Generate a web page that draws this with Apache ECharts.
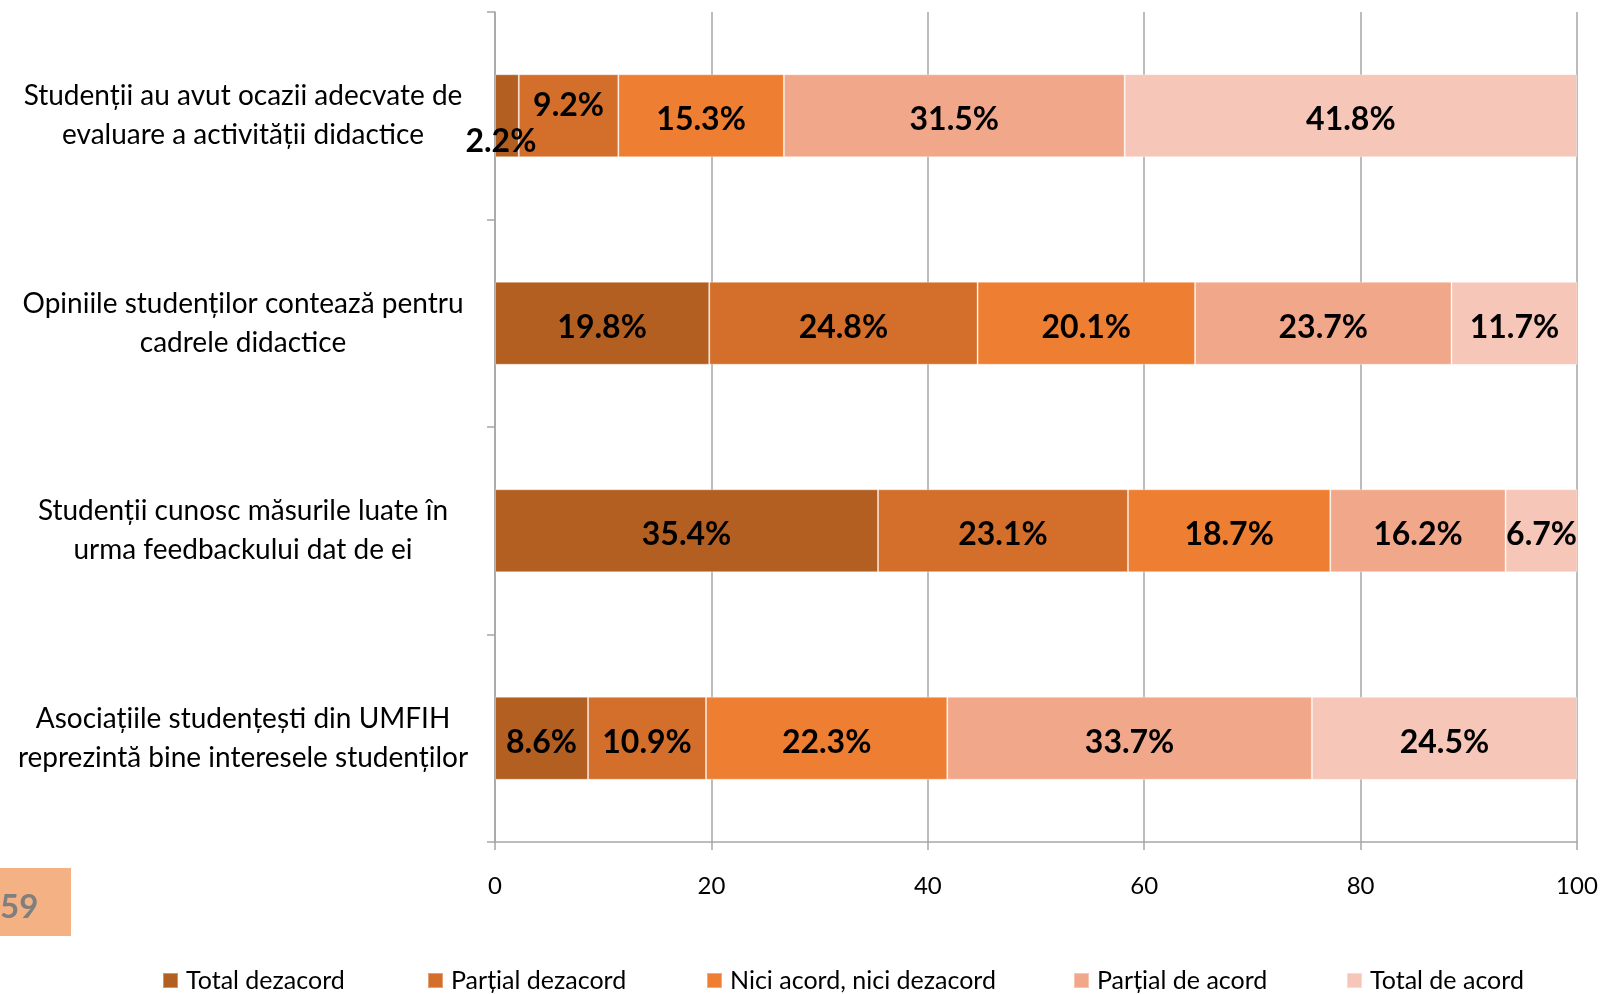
<!DOCTYPE html>
<html>
<head>
<meta charset="utf-8">
<script src="https://cdn.jsdelivr.net/npm/echarts@6/dist/echarts.min.js"></script>
<style>
html,body{margin:0;padding:0;background:#fff;}
#c{width:1603px;height:994px;}
</style>
</head>
<body>
<div id="c"></div>
<script>
const categories = [
  "Studenții au avut ocazii adecvate de\nevaluare a activității didactice",
  "Opiniile studenților contează pentru\ncadrele didactice",
  "Studenții cunosc măsurile luate în\nurma feedbackului dat de ei",
  "Asociațiile studențești din UMFIH\nreprezintă bine interesele studenților"
];
const seriesNames = ["Total dezacord", "Parțial dezacord", "Nici acord, nici dezacord", "Parțial de acord", "Total de acord"];
const totalDezacord = [2.2, 19.8, 35.4, 8.6];
const partialDezacord = [9.2, 24.8, 23.1, 10.9];
const niciAcord = [15.3, 20.1, 18.7, 22.3];
const partialAcord = [31.5, 23.7, 16.2, 33.7];
const totalAcord = [41.8, 11.7, 6.7, 24.5];
const xTicks = [0, 20, 40, 60, 80, 100];
const pageNumber = "59";

const values = [totalDezacord, partialDezacord, niciAcord, partialAcord, totalAcord];
const colors = ["#B45F22", "#D36E2B", "#EE7E32", "#F1A88A", "#F6C7B8"];
const FONT = "Lato";

const labelOffsets = { "0-0": [-6, 26], "1-0": [0, -10] };

const series = values.map((arr, si) => ({
  name: seriesNames[si],
  type: 'bar',
  stack: 'all',
  barWidth: 83,
  itemStyle: { color: colors[si], borderColor: 'rgba(255,255,255,0.35)', borderWidth: 1 },
  data: arr.map((v, ci) => {
    const d = { value: v };
    const off = labelOffsets[si + "-" + ci];
    if (off) d.label = { offset: off };
    return d;
  }),
  label: {
    show: true,
    position: 'inside',
    offset: [0, 4],
    formatter: p => p.value.toFixed(1) + '%',
    color: '#000',
    fontFamily: FONT,
    fontWeight: 'bold',
    fontSize: 32
  }
}));

const legendLefts = [157, 422, 701, 1068, 1341];
const legends = seriesNames.map((n, i) => ({
  data: [n],
  left: legendLefts[i],
  top: 963,
  itemWidth: 15,
  itemHeight: 15,
  itemGap: 0,
  icon: 'rect',
  textStyle: { fontFamily: FONT, fontSize: 25, color: '#000', padding: [0, 0, 0, 3] }
}));

const chart = echarts.init(document.getElementById('c'), null, { renderer: 'canvas' });
chart.setOption({
  animation: false,
  backgroundColor: '#fff',
  grid: { left: 495, right: 26, top: 12, bottom: 152, containLabel: false },
  legend: legends,
  xAxis: {
    type: 'value',
    min: 0, max: 100, interval: 20,
    axisLine: { show: true, lineStyle: { color: '#A6A6A6', width: 1.5 } },
    axisTick: { show: true, length: 8, lineStyle: { color: '#A6A6A6', width: 1.5 } },
    splitLine: { show: true, lineStyle: { color: '#A6A6A6', width: 1.5 } },
    axisLabel: {
      margin: 32, color: '#000', fontFamily: FONT, fontSize: 24,
      formatter: v => xTicks.includes(v) ? String(v) : ''
    }
  },
  yAxis: {
    type: 'category',
    data: categories,
    inverse: true,
    axisLine: { show: true, onZero: false, lineStyle: { color: '#A6A6A6', width: 1.5 } },
    axisTick: { show: true, length: 8, lineStyle: { color: '#A6A6A6', width: 1.5 } },
    axisLabel: {
      margin: 252, align: 'center', color: '#000', fontFamily: FONT, fontSize: 28, lineHeight: 39
    }
  },
  graphic: [
    { type: 'rect', left: 0, top: 868, shape: { width: 71, height: 68 }, style: { fill: '#F4B183' } },
    { type: 'text', left: 0, top: 891, style: { text: pageNumber, fill: '#7F7F7F', font: 'bold 33px ' + FONT } }
  ],
  series: series
});
</script>
</body>
</html>
